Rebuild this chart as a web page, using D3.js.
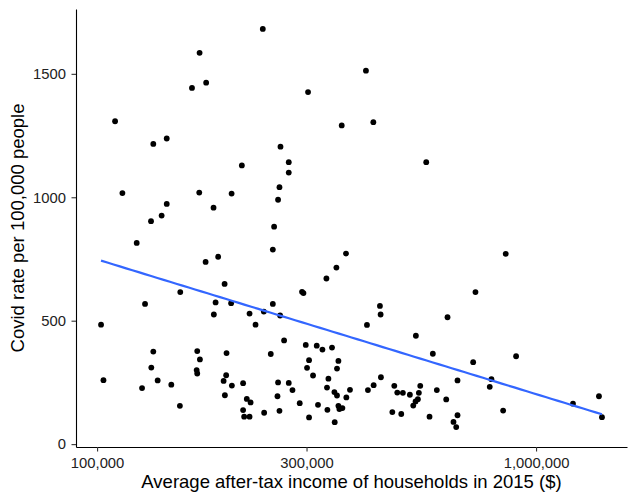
<!DOCTYPE html>
<html><head><meta charset="utf-8">
<script src="https://cdn.jsdelivr.net/npm/d3@7"></script>
<style>body{margin:0;background:#fff} text{font-family:"Liberation Sans",Arial,Helvetica,sans-serif}</style>
</head><body><svg id="c" width="636" height="502"></svg>
<script>
// Average after-tax household income in 2015, thousands of dollars
const incomeThousands = [
 238.5,171.2,164.5,177.2,109.9,134.3,144.1,213.7,114.2,170.9,202.5,144.1,184.2,140.3,132.7,
 123.1,176.7,188.7,195.2,154.7,128.6,186.2,202.0,184.5,222.5,229.6,102.1,239.8,134.3,169.1,171.5,197.2,132.9,168.6,169.1,196.8,194.2,202.8,215.1,103.4,126.6,137.4,147.6,195.5,154.4,219.3,223.7,215.1,216.3,222.5,240.2,
 409.7,302.4,360.8,425.9,261.7,273.3,273.3,562.1,260.3,258.4,253.1,
 251.4,369.0,350.9,333.0,293.0,295.2,251.4,261.2,440.9,442.5,411.9,628.5,532.4,266.7,248.7,298.8,316.5,326.1,342.9,581.9,304.0,354.6,300.8,352.0,310.4,336.5,258.4,273.3,278.7,443.2,257.6,334.0,347.2,352.0,376.8,369.7,414.0,426.6,475.4,482.9,497.3,515.9,544.7,540.8,594.2,624.2,538.0,531.5,525.1,289.5,318.6,354.6,362.1,356.4,334.7,260.3,304.0,347.8,470.5,493.1,571.9,
 852.9,727.7,900.6,719.0,662.3,791.3,784.3,841.4,662.3,648.5,657.8,1213.7,1390.9,1412.9
];
// Covid rate per 100,000 people
const covidRate = [
 1682,1585,1443,1464,1308,1216,1238,1129,1017,1019,1015,973,958,926,903,
 815,738,759,649,616,568,574,571,525,529,484,484,537,375,377,343,369,310,300,286,279,256,237,247,259,227,258,241,198,155,183,169,138,111,111,127,
 1513,1426,1291,1304,1205,1142,1100,1142,1041,990,881,
 788,772,715,671,617,612,568,521,560,525,483,514,439,420,365,402,399,383,391,366,340,337,309,306,278,265,250,248,219,271,194,229,211,197,220,189,219,239,236,209,208,200,236,208,219,181,182,173,156,166,159,155,146,142,139,135,108,89,130,122,111,
 771,616,356,332,258,263,232,136,117,90,69,164,194,109
];
const xTickValues = [100000, 300000, 1000000];
const yTickValues = [0, 500, 1000, 1500];
const xTitle = "Average after-tax income of households in 2015 ($)";
const yTitle = "Covid rate per 100,000 people";

const L = 76, R = 627, T = 9, B = 447;
const data = incomeThousands.map((v, i) => ({x: v * 1000, y: covidRate[i]}));

const lx = data.map(d => Math.log10(d.x));
const [lx0, lx1] = d3.extent(lx);
const exX = (lx1 - lx0) * 0.05;
const x = d3.scaleLog().domain([10 ** (lx0 - exX), 10 ** (lx1 + exX)]).range([L, R]);
const [y0, y1] = d3.extent(data, d => d.y);
const exY = (y1 - y0) * 0.05;
const y = d3.scaleLinear().domain([y0 - exY, y1 + exY]).range([B, T]);

const svg = d3.select("#c");

// points
svg.append("g").selectAll("circle").data(data).join("circle")
  .attr("cx", d => x(d.x)).attr("cy", d => y(d.y)).attr("r", 2.9).attr("fill", "#000");

// linear fit on log10(x)
const n = data.length;
const mx = d3.mean(lx), my = d3.mean(data, d => d.y);
let sxy = 0, sxx = 0;
data.forEach((d, i) => { sxy += (lx[i] - mx) * (d.y - my); sxx += (lx[i] - mx) ** 2; });
const slope = sxy / sxx, icpt = my - slope * mx;
const fitPts = d3.range(0, 81).map(k => {
  const l = lx0 + (lx1 - lx0) * k / 80;
  return [10 ** l, icpt + slope * l];
});
svg.append("path").datum(fitPts)
  .attr("d", d3.line().x(d => x(d[0])).y(d => y(d[1])))
  .attr("fill", "none").attr("stroke", "#3366FF").attr("stroke-width", 2.2);

// axes
const fs = "14.8px";
const xa = svg.append("g").attr("transform", `translate(0,${B})`)
  .call(d3.axisBottom(x).tickValues(xTickValues).tickFormat(d3.format(",")).tickSize(4.5).tickSizeOuter(0).tickPadding(5.5));
const ya = svg.append("g").attr("transform", `translate(${L},0)`)
  .call(d3.axisLeft(y).tickValues(yTickValues).tickFormat(d3.format("d")).tickSize(4.5).tickSizeOuter(0).tickPadding(5.5));
[xa, ya].forEach(a => {
  a.select(".domain").attr("stroke", "#000").attr("stroke-width", 1.1);
  a.selectAll(".tick line").attr("stroke", "#333").attr("stroke-width", 1.1);
  a.selectAll(".tick text").attr("fill", "#222").style("font-size", fs).style("font-family", '"Liberation Sans",Arial,sans-serif');
});

// titles
svg.append("text").attr("x", (L + R) / 2).attr("y", 488).attr("text-anchor", "middle")
  .style("font-size", "18.5px").attr("fill", "#000").text(xTitle);
svg.append("text").attr("transform", `translate(23.5,${(T + B) / 2}) rotate(-90)`).attr("text-anchor", "middle")
  .style("font-size", "18.5px").attr("fill", "#000").text(yTitle);
</script></body></html>
